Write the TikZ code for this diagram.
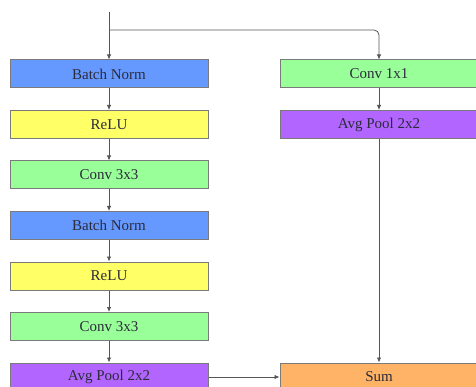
\documentclass[tikz,border=0pt]{standalone}
\usepackage{fontspec}
\setmainfont{Liberation Serif}
\usepackage{xcolor}
\usepackage{tikz}
\usetikzlibrary{positioning,arrows.meta}
\definecolor{edge}{HTML}{7A7A7A}
\definecolor{wire}{HTML}{555555}
\definecolor{ink}{HTML}{2B2B3A}
\definecolor{bnblue}{HTML}{6699FF}
\definecolor{reluyellow}{HTML}{FFFF66}
\definecolor{convgreen}{HTML}{99FF99}
\definecolor{poolpurple}{HTML}{B266FF}
\definecolor{sumorange}{HTML}{FFB366}
\tikzset{
  layer/.style={draw=edge, line width=1pt, minimum width=198pt, minimum height=28pt,
    inner sep=0pt, text=ink, font=\fontsize{15}{17}\selectfont},
  bn/.style={layer, fill=bnblue},
  act/.style={layer, fill=reluyellow},
  cv/.style={layer, fill=convgreen},
  pool/.style={layer, fill=poolpurple},
  add/.style={layer, fill=sumorange},
  flow/.style={draw=wire, line width=0.8pt, -{Latex[length=5pt,width=4.5pt]}},
}
\begin{document}
\begin{tikzpicture}[x=1pt, y=1pt, node distance=21.5pt]
  \useasboundingbox (0,0) rectangle (476,-387);
  \coordinate (in) at (109,-12);
  \coordinate (split) at (109,-30);
  % main path
  \node[bn] (bn1) at (109,-74) {Batch Norm};
  \node[act, below=of bn1] (relu1) {ReLU};
  \node[cv, below=of relu1] (conv1) {Conv 3x3};
  \node[bn, below=of conv1] (bn2) {Batch Norm};
  \node[act, below=of bn2] (relu2) {ReLU};
  \node[cv, below=of relu2] (conv2) {Conv 3x3};
  \node[pool, below=of conv2] (pool1) {Avg Pool 2x2};
  % shortcut
  \node[cv] (conv0) at (379,-74) {Conv 1x1};
  \node[pool, below=of conv0] (pool0) {Avg Pool 2x2};
  \node[add, right=71pt of pool1] (sum) {Sum};

  \draw[flow] (in) -- (bn1);
  \draw[flow, rounded corners=5pt] (split) -| (conv0);
  \draw[flow] (bn1) -- (relu1);
  \draw[flow] (relu1) -- (conv1);
  \draw[flow] (conv1) -- (bn2);
  \draw[flow] (bn2) -- (relu2);
  \draw[flow] (relu2) -- (conv2);
  \draw[flow] (conv2) -- (pool1);
  \draw[flow] (conv0) -- (pool0);
  \draw[flow] (pool0) -- (sum);
  \draw[flow] (pool1) -- (sum);
\end{tikzpicture}
\end{document}
